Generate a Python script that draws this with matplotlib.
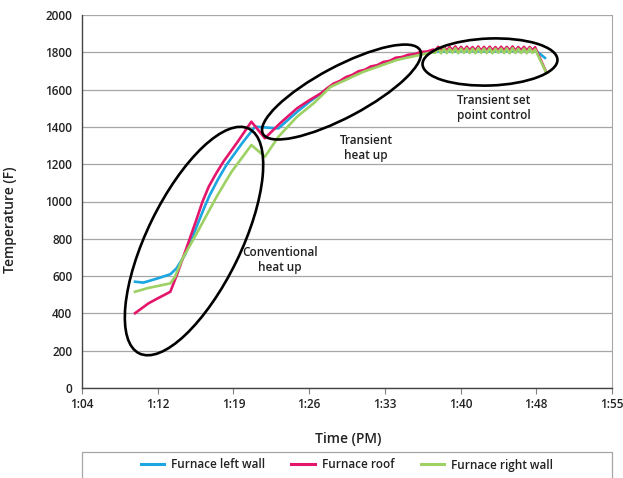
import matplotlib
matplotlib.use("Agg")
import matplotlib.pyplot as plt
from matplotlib.patches import Ellipse, Rectangle
from matplotlib.lines import Line2D
from matplotlib.transforms import IdentityTransform

plt.rcParams['font.family'] = ['Open Sans', 'DejaVu Sans']

# time in minutes after 1:00 PM, temperature in F
left_time = [69.1, 69.9, 71.3, 72.5, 73.1, 73.9, 74.9, 75.8, 76.3, 77.1, 77.9, 79.4, 80.65,
             82.9, 84.7, 85.9, 87.9, 91.0, 94.3, 96.5, 97.7, 100.0, 103.0, 105.5, 107.6, 108.55]
left_temp = [570, 565, 588, 610, 642, 713, 847, 972, 1035, 1120, 1196, 1312, 1401,
             1392, 1481, 1535, 1617, 1697, 1762, 1789, 1803, 1808, 1806, 1808, 1812, 1770]

roof_time = [69.1, 70.4, 71.3, 72.5, 73.2, 74.1, 75.0, 75.6, 76.2, 76.9, 77.6, 78.9, 80.3, 81.6,
             83.05, 84.7, 85.9, 87.0, 87.6, 88.2, 88.8, 89.4, 90.0, 90.6, 91.2, 91.8, 92.4,
             93.0, 93.6, 94.2, 94.8, 95.4, 96.0, 96.6, 97.2, 97.8,
             98.0, 98.28, 98.55, 98.83, 99.1, 99.38, 99.65, 99.93, 100.2, 100.48, 100.75, 101.03,
             101.3, 101.58, 101.85, 102.13, 102.4, 102.68, 102.95, 103.23, 103.5, 103.78, 104.05,
             104.33, 104.6, 104.88, 105.15, 105.43, 105.7, 105.98, 106.25, 106.53, 106.8, 107.08,
             107.35, 107.6, 108.7]
roof_temp = [401, 454, 481, 516, 617, 758, 901, 1000, 1080, 1150, 1213, 1314, 1428, 1339,
             1419, 1500, 1544, 1580, 1608, 1632, 1646, 1667, 1679, 1698, 1706, 1724, 1731,
             1748, 1754, 1771, 1775, 1787, 1790, 1802, 1804, 1815,
             1810, 1829, 1811, 1830, 1809, 1828, 1811, 1831, 1810, 1829, 1809, 1830,
             1811, 1828, 1810, 1831, 1809, 1829, 1811, 1830, 1810, 1828, 1809, 1830,
             1811, 1829, 1810, 1831, 1809, 1828, 1811, 1829, 1810, 1828, 1811, 1827,
             1690]

right_time = [69.1, 70.35, 72.5, 72.95, 73.7, 74.9, 76.1, 77.0, 77.8, 78.4, 79.4, 80.3, 81.6,
              82.9, 84.7, 86.3, 87.9, 91.0, 94.3, 96.5, 97.7,
              98.0, 98.28, 98.55, 98.83, 99.1, 99.38, 99.65, 99.93, 100.2, 100.48, 100.75, 101.03,
              101.3, 101.58, 101.85, 102.13, 102.4, 102.68, 102.95, 103.23, 103.5, 103.78, 104.05,
              104.33, 104.6, 104.88, 105.15, 105.43, 105.7, 105.98, 106.25, 106.53, 106.8, 107.08,
              107.35, 107.6, 108.7]
right_temp = [516, 536, 561, 597, 697, 815, 938, 1030, 1105, 1160, 1235, 1303, 1240,
              1347, 1455, 1527, 1614, 1694, 1759, 1786, 1800,
              1797, 1820, 1795, 1821, 1796, 1819, 1798, 1822, 1795, 1820, 1797, 1821,
              1796, 1819, 1795, 1822, 1797, 1820, 1796, 1821, 1795, 1819, 1798, 1820,
              1796, 1821, 1795, 1822, 1797, 1819, 1796, 1820, 1795, 1821, 1797, 1816,
              1688]

x_ticks = [64, 71.29, 78.57, 85.86, 93.14, 100.43, 107.71, 115]
x_tick_labels = ["1:04", "1:12", "1:19", "1:26", "1:33", "1:40", "1:48", "1:55"]
y_ticks = [0, 200, 400, 600, 800, 1000, 1200, 1400, 1600, 1800, 2000]

series_names = ["Furnace left wall", "Furnace roof", "Furnace right wall"]
colors = ["#1ba6e2", "#e3166b", "#9dd163"]

# annotation notes: text, time, temp
notes = [("Conventional\nheat up", 83.05, 686),
         ("Transient\nheat up", 91.33, 1287),
         ("Transient set\npoint control", 103.65, 1501)]
# ellipses: center time, center temp, width px, height px, angle
rings = [(74.78, 788, 250, 94, 64),
         (88.97, 1587, 178, 51, 28),
         (103.26, 1748, 135, 47, 2)]

fig = plt.figure(figsize=(6.23, 4.78), dpi=100)
ax = fig.add_axes([82 / 623, 90 / 478, 530 / 623, 373 / 478])

ax.plot(left_time, left_temp, color=colors[0], lw=1.9, zorder=3)
ax.plot(roof_time, roof_temp, color=colors[1], lw=1.9, zorder=4)
ax.plot(right_time, right_temp, color=colors[2], lw=1.9, zorder=5)

ax.set_xlim(64, 115)
ax.set_ylim(0, 2000)
ax.set_xticks(x_ticks)
ax.set_xticklabels(x_tick_labels)
ax.set_yticks(y_ticks)
ax.grid(axis='y', color='#a6a6a6', lw=0.9)
ax.set_axisbelow(True)
ax.tick_params(axis='x', length=4, width=0.8, color='#808080', pad=3, labelsize=8.5)
ax.tick_params(axis='y', length=0, pad=7, labelsize=8.5)
for lab in ax.get_xticklabels() + ax.get_yticklabels():
    lab.set_fontweight('semibold')
    lab.set_color('#222222')
for side in ['left', 'bottom']:
    ax.spines[side].set_color('#444444')
    ax.spines[side].set_linewidth(1.0)
ax.spines['right'].set_color('#a6a6a6')
ax.spines['top'].set_visible(False)

ax.set_xlabel("Time (PM)", fontsize=10, fontweight='semibold', color='#222222')
ax.set_ylabel("Temperature (F)", fontsize=10, fontweight='semibold', color='#222222')
ax.xaxis.set_label_coords(0.502, -0.118)
ax.yaxis.set_label_coords(-0.123, 0.45)

for txt, tx, ty in notes:
    ax.text(tx, ty, txt, ha='center', va='center', fontsize=8.5,
            fontweight='semibold', color='#222222', linespacing=1.25, zorder=6)

for cx, cy, w, h, ang in rings:
    px, py = ax.transData.transform((cx, cy))
    ell = Ellipse((px, py), w, h, angle=ang, fill=False, ec='black', lw=1.9,
                  transform=IdentityTransform(), zorder=7)
    fig.add_artist(ell)

# legend box spanning the plot width
fig.add_artist(Rectangle((82 / 623, -0.05), 530 / 623, 0.05 + 26 / 478,
                         transform=fig.transFigure, fill=False, ec='#a6a6a6', lw=0.9))
handles = [Line2D([], [], color=c, lw=2.2) for c in colors]
leg = fig.legend(handles, series_names, loc='center', bbox_to_anchor=(347 / 623, 13 / 478),
                 ncol=3, frameon=False, fontsize=8.5, handlelength=2.0, columnspacing=2.2,
                 handletextpad=0.6)
for t in leg.get_texts():
    t.set_fontweight('semibold')
    t.set_color('#222222')

fig.savefig("out.png", dpi=100)
